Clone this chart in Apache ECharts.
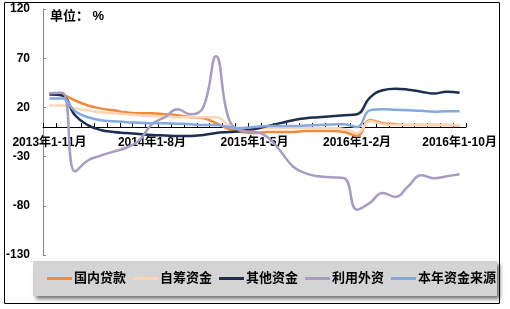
<!DOCTYPE html>
<html>
<head>
<meta charset="utf-8">
<script src="https://cdn.jsdelivr.net/npm/echarts@6/dist/echarts.min.js"></script>
<style>
html,body{margin:0;padding:0;background:#fff;}
#chart{width:510px;height:309px;}
</style>
</head>
<body>
<div id="chart"></div>
<script>
var categories = [
  '2013年1-11月','2013年1-12月',
  '2014年1-2月','2014年1-3月','2014年1-4月','2014年1-5月','2014年1-6月','2014年1-7月','2014年1-8月','2014年1-9月','2014年1-10月','2014年1-11月','2014年1-12月',
  '2015年1-2月','2015年1-3月','2015年1-4月','2015年1-5月','2015年1-6月','2015年1-7月','2015年1-8月','2015年1-9月','2015年1-10月','2015年1-11月','2015年1-12月',
  '2016年1-2月','2016年1-3月','2016年1-4月','2016年1-5月','2016年1-6月','2016年1-7月','2016年1-8月','2016年1-9月','2016年1-10月'
];
var seriesNames = ['国内贷款','自筹资金','其他资金','利用外资','本年资金来源'];
var domesticLoans = [34,33,27,22,19,17,15,14,14,13,12,10,9,4,-2,-5,-6,-5,-5,-5,-4,-4,-4,-5,-9,7,4,3,2,2,2,2,1.5];
var selfRaised = [22,22,19,17,15,14,13,12,11,11,10,10,10,10,2,-2,-2,-1,-1,-1,-1,-1,-1,-2,-6,6,3,2,2,2,2,2,2];
var otherFunds = [33,32,12,2,-3,-5,-6,-7,-8,-8.5,-9,-9,-8,-6,-5,-4,-2,1,4,7,9,10,11,12,13,30,37.5,39,38,36,34,36,35];
var foreignInvest = [34.5,35,-45,-34,-29,-25,-21,-13.5,3,10,18,13,20,72,8,-4,-5,-10,-24,-40,-47,-50,-51,-52,-84,-77,-67,-71,-60,-49,-52,-50,-48];
var totalSources = [29,29,16,10,7,6,5,4.5,4,4,3.5,3,2,2,0,-1,0,1,1,1,1.5,2,2.5,3,0,17,18,17.5,17,16.5,15.5,16,16];
var yTicks = {min:-130, max:120, interval:50};
var colors = ['#F08A3C','#FBD5B5','#1B2F52','#A89BC4','#84A9DF'];
var seriesData = [domesticLoans, selfRaised, otherFunds, foreignInvest, totalSources];

var font = '"Liberation Sans", Arial, "Noto Sans CJK SC", sans-serif';
var gridTop = 9, gridBottom = 54, H = 309;
var plotH = H - gridTop - gridBottom;
var zeroOffset = -(plotH * (0 - yTicks.min) / (yTicks.max - yTicks.min));

var chart = echarts.init(document.getElementById('chart'), null, {renderer:'canvas'});
var series = seriesNames.map(function(n, i){
  return {
    name: n, type: 'line', data: seriesData[i], smooth: 0.45, symbol: 'none',
    lineStyle: {color: colors[i], width: 2.5},
    itemStyle: {color: colors[i]}
  };
});
chart.setOption({
  animation: false,
  backgroundColor: '#fff',
  textStyle: {fontFamily: font},
  graphic: [
    {type:'rect', shape:{x:4.5, y:2.5, width:495, height:301}, style:{fill:'none', stroke:'#000', lineWidth:1}, z:-10},
    {type:'rect', shape:{x:33, y:261, width:464, height:35}, style:{fill:'#D4D4D4', shadowBlur:4, shadowOffsetX:3, shadowOffsetY:3, shadowColor:'rgba(0,0,0,0.55)'}, z:-5},
    {type:'text', left:50, top:10, style:{text:'单位： %', font:'bold 13px ' + font, fill:'#000'}}
  ],
  grid: {left:43, right:44, top:gridTop, bottom:gridBottom, containLabel:false},
  legend: {
    data: seriesNames, left: 42, top: 267, itemGap: 7, itemWidth: 25, itemHeight: 3,
    icon: 'rect',
    textStyle: {fontSize:13, fontWeight:'bold', color:'#000', fontFamily: font, padding:[0,0,0,-3]}
  },
  xAxis: {
    type: 'category', data: categories, boundaryGap: true,
    offset: zeroOffset,
    axisLine: {onZero: false, lineStyle: {color:'#000', width:1}},
    axisTick: {show: true, inside: true, length: 4, interval: 0, lineStyle:{color:'#000'}},
    axisLabel: {interval: 7, fontSize: 12, fontWeight: 'bold', color: '#000', margin: 10, fontFamily: font},
    splitLine: {show: false}
  },
  yAxis: {
    type: 'value', min: yTicks.min, max: yTicks.max, interval: yTicks.interval,
    axisLine: {show: true, lineStyle: {color:'#868686', width:1}},
    axisTick: {show: true, inside: true, length: 3, lineStyle:{color:'#868686'}},
    axisLabel: {fontSize: 12, fontWeight: 'bold', color: '#000', margin: 13, fontFamily: font},
    splitLine: {show: false}
  },
  series: series
});
</script>
</body>
</html>
